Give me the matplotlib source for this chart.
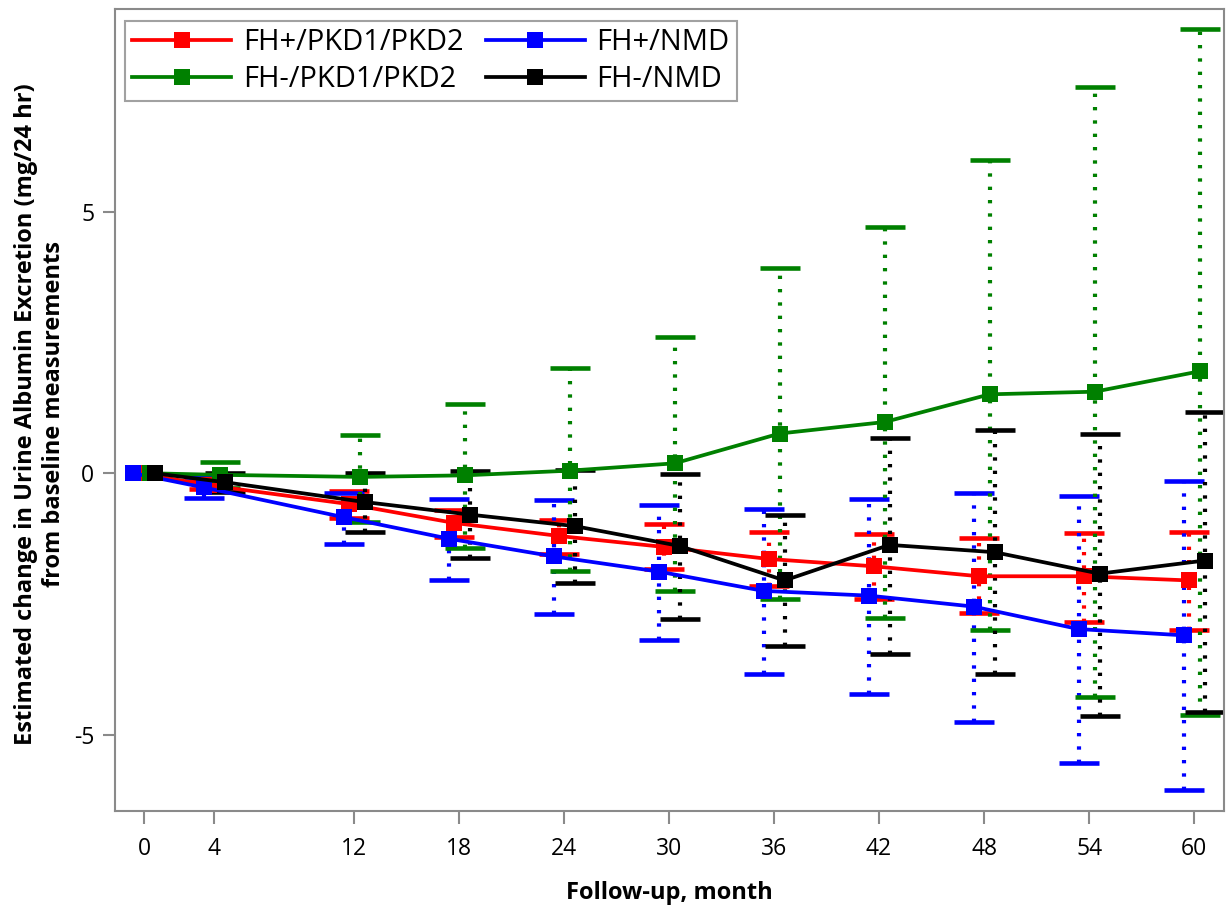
import numpy as np
import matplotlib
matplotlib.use("Agg")
import matplotlib.pyplot as plt

plt.rcParams['font.family'] = ['Open Sans', 'DejaVu Sans']
plt.rcParams['axes.unicode_minus'] = False

months = [0, 4, 12, 18, 24, 30, 36, 42, 48, 54, 60]
x_ticks = [0, 4, 12, 18, 24, 30, 36, 42, 48, 54, 60]
y_ticks = [-5, 0, 5]

labels = ["FH+/PKD1/PKD2", "FH+/NMD", "FH-/PKD1/PKD2", "FH-/NMD"]
colors = ["#FF0000", "#0000FF", "#008000", "#000000"]
offsets = [-0.28, -0.6, 0.32, 0.6]

red_mean = [0, -0.23, -0.59, -0.95, -1.20, -1.41, -1.64, -1.78, -1.97, -1.97, -2.05]
red_low = [0, -0.31, -0.85, -1.22, -1.54, -1.84, -2.16, -2.41, -2.67, -2.84, -3.00]
red_high = [0, -0.15, -0.34, -0.70, -0.90, -0.98, -1.12, -1.17, -1.24, -1.15, -1.12]

blue_mean = [0, -0.27, -0.84, -1.25, -1.59, -1.88, -2.25, -2.34, -2.55, -2.98, -3.10]
blue_low = [0, -0.47, -1.36, -2.05, -2.69, -3.19, -3.84, -4.22, -4.75, -5.54, -6.05]
blue_high = [0, -0.08, -0.37, -0.49, -0.52, -0.61, -0.68, -0.49, -0.37, -0.43, -0.15]

green_mean = [0, -0.03, -0.07, -0.04, 0.05, 0.19, 0.76, 0.98, 1.51, 1.56, 1.95]
green_low = [0, -0.28, -0.93, -1.42, -1.86, -2.26, -2.41, -2.76, -2.99, -4.27, -4.62]
green_high = [0, 0.22, 0.73, 1.32, 2.02, 2.61, 3.93, 4.71, 6.00, 7.38, 8.49]

black_mean = [0, -0.17, -0.55, -0.79, -1.01, -1.39, -2.05, -1.37, -1.51, -1.92, -1.67]
black_low = [0, -0.35, -1.12, -1.63, -2.10, -2.79, -3.31, -3.45, -3.84, -4.64, -4.56]
black_high = [0, 0.00, 0.00, 0.04, 0.06, -0.02, -0.80, 0.68, 0.82, 0.76, 1.18]

series = [
    (red_mean, red_low, red_high),
    (blue_mean, blue_low, blue_high),
    (green_mean, green_low, green_high),
    (black_mean, black_low, black_high),
]

W, H = 1231, 913
fig = plt.figure(figsize=(W / 100, H / 100), dpi=100)
ax_l, ax_r, ax_t, ax_b = 115, 1224, 9, 811
ax = fig.add_axes([ax_l / W, 1 - ax_b / H, (ax_r - ax_l) / W, (ax_b - ax_t) / H])

gray = "#8a8a8a"
handles = []
for i, ((m, lo, hi), c, off, lab) in enumerate(zip(series, colors, offsets, labels)):
    x = np.array(months, dtype=float) + off
    m = np.array(m); lo = np.array(lo); hi = np.array(hi)
    sel = slice(1, None)
    eb = ax.errorbar(x[sel], m[sel], yerr=[m[sel] - lo[sel], hi[sel] - m[sel]],
                     fmt='none', ecolor=c, elinewidth=3.0, capsize=14.4,
                     capthick=3.3, zorder=2 + i * 0.01)
    for lc in eb[2]:
        lc.set_linestyle((0, (0.8, 2.4)))
    ln, = ax.plot(x, m, color=c, lw=2.7, marker='s', markersize=11.5,
                  markeredgewidth=0, zorder=3 + i * 0.01, label=lab)
    handles.append(ln)

ax.set_xlim(-1.657, 61.71)
ax.set_ylim(-6.46, 8.88)
ax.set_xticks(x_ticks)
ax.set_xticklabels([str(t) for t in x_ticks])
ax.set_yticks(y_ticks)
ax.set_yticklabels([str(t) for t in y_ticks])

for s in ax.spines.values():
    s.set_color(gray)
    s.set_linewidth(1.5)
ax.tick_params(axis='both', colors=gray, width=1.5, length=9, labelcolor='black',
               labelsize=16.5)
ax.tick_params(axis='x', pad=10)
ax.tick_params(axis='y', pad=6)

# legend order: row1 red, blue ; row2 green, black  (ncol=2 fills column-wise)
order = [0, 2, 1, 3]
leg = ax.legend([handles[k] for k in order], [labels[k] for k in order],
                ncol=2, loc='upper left',
                bbox_to_anchor=(125 / W, 1 - 20.7 / H), bbox_transform=fig.transFigure,
                borderaxespad=0, fontsize=21, frameon=True, fancybox=False,
                handlelength=3.4, handletextpad=0.4, columnspacing=0.75,
                labelspacing=0.28, borderpad=0.25)
leg.get_frame().set_edgecolor(gray)
leg.get_frame().set_linewidth(1.5)

fig.text(669.5 / W, 1 - 893 / H, "Follow-up, month", ha='center', va='center',
         fontsize=17, fontweight='bold')
fig.text(40 / W, 1 - 414 / H,
         "Estimated change in Urine Albumin Excretion (mg/24 hr)\nfrom baseline measurements",
         ha='center', va='center', rotation=90, multialignment='center',
         fontsize=17, fontweight='bold', linespacing=1.25)

fig.savefig("out.png", dpi=100)
